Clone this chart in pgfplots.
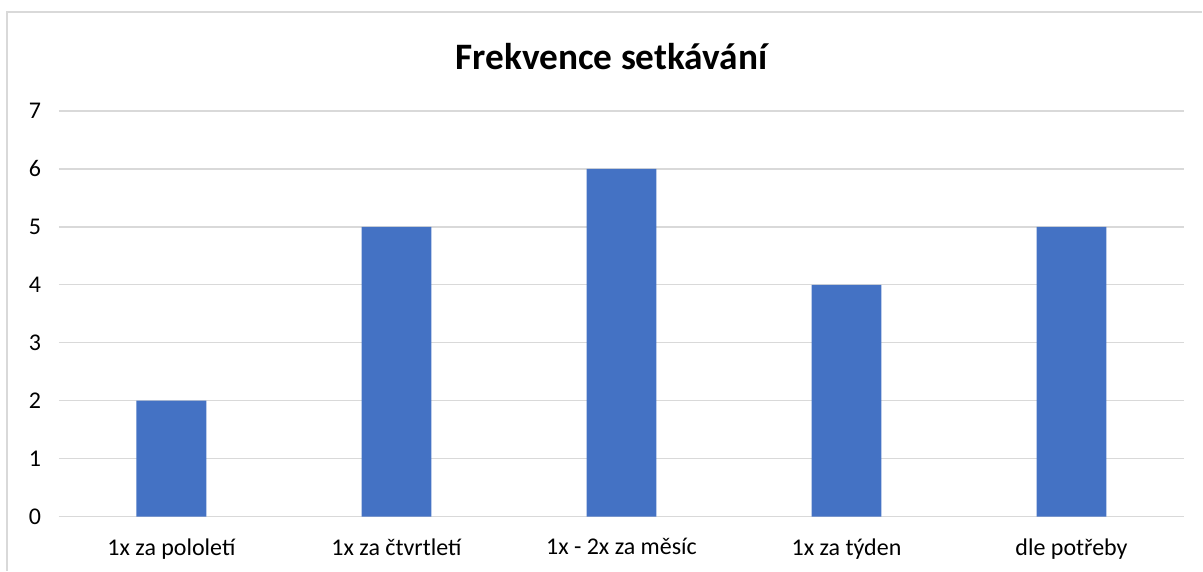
\documentclass[border=0pt]{standalone}
\usepackage{pgfplots}
\pgfplotsset{compat=1.18}
\usepackage{fontspec}
\setmainfont{Carlito}
\definecolor{barblue}{HTML}{4472C4}
\definecolor{gridgray}{HTML}{D9D9D9}
\definecolor{txt}{HTML}{000000}
\begin{document}
\begin{tikzpicture}[x=0.75pt,y=0.75pt]
\path[fill=white] (0,0) rectangle (1203,571);
\draw[gridgray,line width=1.5pt] (7,0) -- (7,559) -- (1203,559);
\node[font=\bfseries\fontsize{28}{33}\selectfont] at (612,514) {Frekvence setkávání};
\begin{axis}[
  at={(59*0.75pt,54*0.75pt)}, anchor=south west,
  scale only axis, width=844.5pt, height=304.5pt,
  xmin=-0.5, xmax=4.5, ymin=0, ymax=7,
  xtick={0,1,2,3,4},
  xticklabels={1x za pololetí,1x za čtvrtletí,1x - 2x za měsíc,1x za týden,dle potřeby},
  ytick={0,1,...,7},
  ymajorgrids, grid style={gridgray,line width=1.1pt},
  axis x line*=bottom, axis y line*=left,
  x axis line style={gridgray,line width=1.1pt,-},
  y axis line style={draw=none},
  major tick length=0pt,
  tick label style={font=\fontsize{18}{21}\selectfont, text=txt},
  /pgf/number format/assume math mode=true,
  xticklabel style={yshift=-13pt},
  yticklabel style={xshift=-10pt},
  ybar, bar width=52.5pt,
  clip=false,
]
\addplot[fill=barblue, draw=none] coordinates {(0,2) (1,5) (2,6) (3,4) (4,5)};
\end{axis}
\end{tikzpicture}
\end{document}
